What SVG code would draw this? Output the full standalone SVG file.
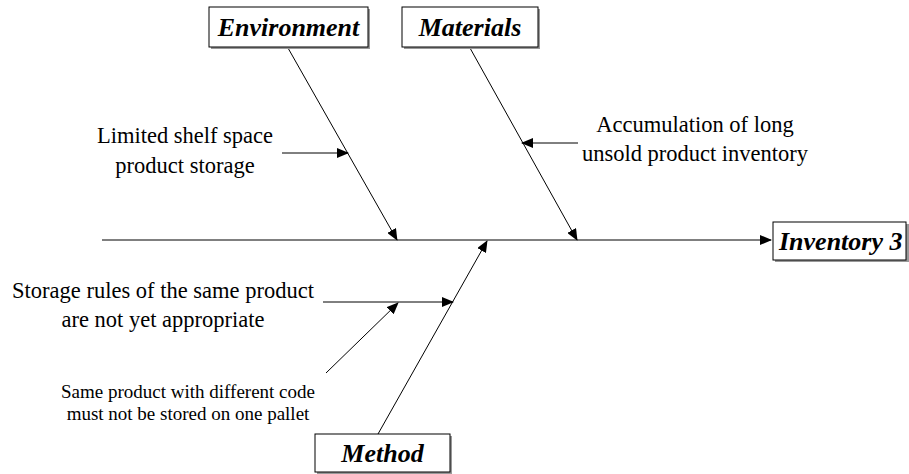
<svg xmlns="http://www.w3.org/2000/svg" width="909" height="474" viewBox="0 0 909 474">
<style>
.box{fill:#fff;stroke:#000;stroke-width:1}
.sh{fill:#999}
.lbl{font-weight:bold;font-style:italic;font-size:26px;fill:#000}
.t{font-size:22.5px;fill:#000}
.s{font-size:19px;fill:#000}
.ln{stroke:#000;stroke-width:1;fill:none}
</style>
<defs>
<marker id="ah" markerWidth="12" markerHeight="10" refX="11" refY="5" orient="auto" markerUnits="userSpaceOnUse">
<path d="M0,0 L12,5 L0,10 Z" fill="#000"/>
</marker>
</defs>
<rect width="909" height="474" fill="#fff"/>
<g id="connectors">
<line class="ln" x1="102" y1="240" x2="771" y2="240" marker-end="url(#ah)"/>
<line class="ln" x1="288" y1="48" x2="397" y2="240" marker-end="url(#ah)"/>
<line class="ln" x1="470" y1="48" x2="577" y2="240" marker-end="url(#ah)"/>
<line class="ln" x1="378" y1="434" x2="487" y2="241" marker-end="url(#ah)"/>
<line class="ln" x1="282" y1="153" x2="348" y2="153" marker-end="url(#ah)"/>
<line class="ln" x1="578" y1="143" x2="522" y2="143" marker-end="url(#ah)"/>
<line class="ln" x1="323" y1="302" x2="453" y2="302" marker-end="url(#ah)"/>
<line class="ln" x1="326" y1="373" x2="398" y2="303" marker-end="url(#ah)"/>
</g>
<g font-family="'Liberation Serif', 'Times New Roman', serif">
<g id="environment">
<rect class="sh" x="211" y="9" width="159" height="40"/>
<rect class="box" x="209" y="7" width="159" height="40"/>
<text class="lbl" x="288.5" y="36" text-anchor="middle">Environment</text>
</g>
<g id="materials">
<rect class="sh" x="404" y="9" width="136" height="40"/>
<rect class="box" x="402" y="7" width="136" height="40"/>
<text class="lbl" x="470" y="36" text-anchor="middle">Materials</text>
</g>
<g id="method">
<rect class="sh" x="317" y="436" width="135" height="38"/>
<rect class="box" x="315" y="434" width="135" height="38"/>
<text class="lbl" x="382.5" y="462" text-anchor="middle">Method</text>
</g>
<g id="inventory3">
<rect class="sh" x="775" y="224" width="134" height="38"/>
<rect class="box" x="773" y="222" width="133" height="38"/>
<text class="lbl" x="779" y="250">Inventory 3</text>
</g>
<g id="cause-limited-shelf">
<text class="t" x="185" y="143" text-anchor="middle">Limited shelf space</text>
<text class="t" x="185" y="173" text-anchor="middle">product storage</text>
</g>
<g id="cause-accumulation">
<text class="t" x="695" y="132" text-anchor="middle">Accumulation of long</text>
<text class="t" x="695" y="161" text-anchor="middle">unsold product inventory</text>
</g>
<g id="cause-storage-rules">
<text class="t" x="163" y="298" text-anchor="middle">Storage rules of the same product</text>
<text class="t" x="163" y="327" text-anchor="middle">are not yet appropriate</text>
</g>
<g id="cause-same-product">
<text class="s" x="188" y="398" text-anchor="middle">Same product with different code</text>
<text class="s" x="188" y="420" text-anchor="middle">must not be stored on one pallet</text>
</g>
</g>
</svg>
